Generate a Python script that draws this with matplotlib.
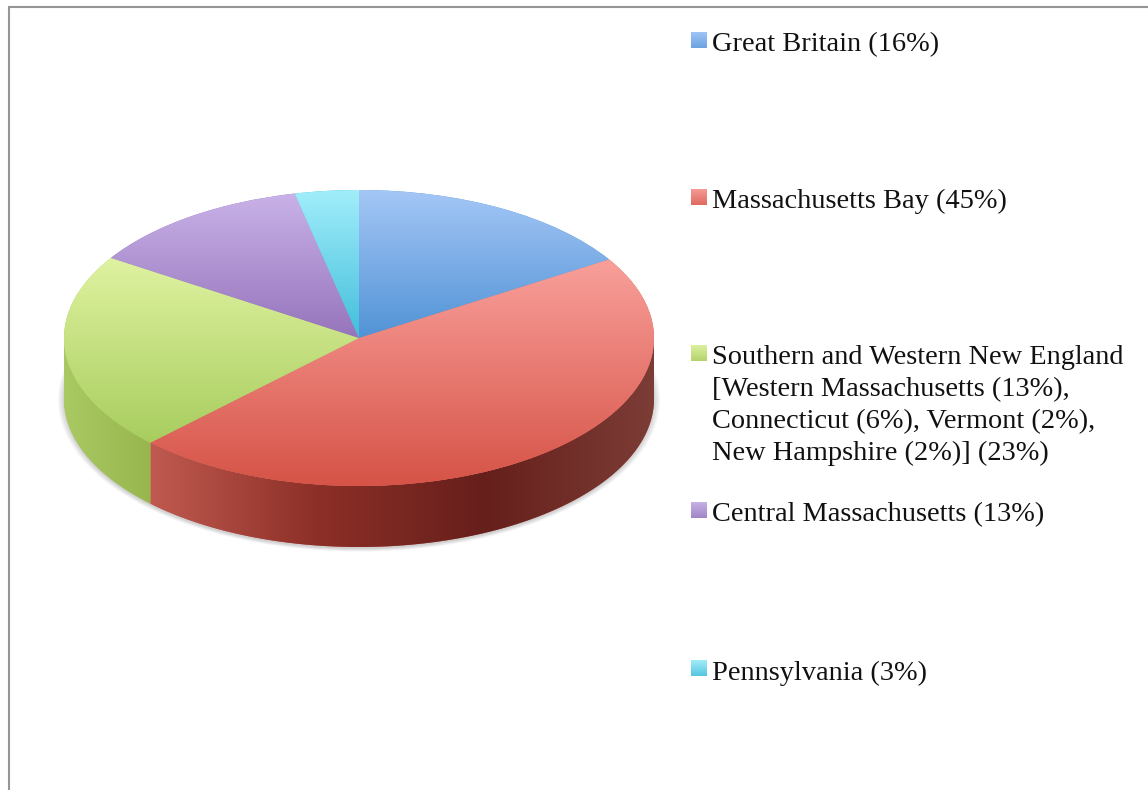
import numpy as np
import matplotlib
matplotlib.use("Agg")
import matplotlib.pyplot as plt
from matplotlib.colors import LinearSegmentedColormap
from matplotlib.patches import Ellipse, Polygon

# slice shares as drawn in the picture (the legend rounds them differently)
names = ["Great Britain", "Massachusetts Bay", "Southern and Western New England",
         "Central Massachusetts", "Pennsylvania"]
shares = [16.1, 46.4, 21.6, 12.4, 3.5]
legend_labels = [
    ["Great Britain (16%)"],
    ["Massachusetts Bay (45%)"],
    ["Southern and Western New England", "[Western Massachusetts (13%),",
     "Connecticut (6%), Vermont (2%),", "New Hampshire (2%)] (23%)"],
    ["Central Massachusetts (13%)"],
    ["Pennsylvania (3%)"],
]

W, H = 1148, 790
cx, cy, rx, ry, depth = 359, 338, 295, 148, 61
top_colors = [("#a5c7f6", "#5193d6"), ("#f9a09b", "#d65347"), ("#dff2a0", "#a8cd5e"),
              ("#c9b2e8", "#9674bc"), ("#a2eefa", "#42bedb")]
wall_colors = [("#4a7fb8", "#4a7fb8"), ("#c05a50", "#8c2f27", "#661f1b", "#7c3d36"),
               ("#a9c963", "#98b64d"), ("#8060a0", "#8060a0"), ("#3aa0b8", "#3aa0b8")]
swatch_colors = [("#a0c4f4", "#6ba3e2"), ("#f59a95", "#df6a60"), ("#dcf0a0", "#b4d46c"),
                 ("#c6b0e4", "#a286c6"), ("#a0ecf8", "#56c6e0")]
legend_y = [33, 190, 346, 503, 661]

fig = plt.figure(figsize=(W / 100, H / 100), dpi=100)
ax = fig.add_axes([0, 0, 1, 1])
xlim = (-cx / rx, (W - cx) / rx)
ylim = ((cy - H) / ry, cy / ry)
d = depth / ry

# soft shadow under the disc
for k in range(8):
    grow = 1 + k * 0.003
    ax.add_patch(Ellipse((0, -d - 0.006), 2 * grow, 2 * grow + 0.01,
                         color="black", alpha=0.022, lw=0, zorder=0.5))

wedges, _ = ax.pie(shares, startangle=90, counterclock=False, radius=1,
                   colors=[c[1] for c in top_colors], wedgeprops={"linewidth": 0})
for w in wedges:
    w.set_zorder(3)

for w, tc, wc in zip(wedges, top_colors, wall_colors):
    a = np.radians(np.linspace(w.theta1, w.theta2, 200))
    ys = np.r_[np.sin(a), 0]
    cmap = LinearSegmentedColormap.from_list("t", tc)
    im = ax.imshow(np.linspace(0, 1, 256).reshape(-1, 1), cmap=cmap, aspect="auto",
                   extent=(-1, 1, ys.min(), ys.max()), origin="upper", zorder=4)
    im.set_clip_path(w)

    # outer wall, only the part facing the viewer (lower half)
    t1, t2 = w.theta1, w.theta2
    if t1 < 0:
        t1, t2 = t1 + 360, t2 + 360
    lo, hi = max(t1, 180), min(t2, 360)
    if hi <= lo:
        continue
    a = np.radians(np.linspace(lo, hi, 200))
    pts = np.r_[np.c_[np.cos(a), np.sin(a)], np.c_[np.cos(a[::-1]), np.sin(a[::-1]) - d]]
    wall = Polygon(pts, closed=True, fc=wc[0], lw=0, zorder=2)
    ax.add_patch(wall)
    cmap = LinearSegmentedColormap.from_list("w", wc)
    im = ax.imshow(np.linspace(0, 1, 256).reshape(1, -1), cmap=cmap, aspect="auto",
                   extent=(np.cos(a).min(), np.cos(a).max(), -1 - d, 0), zorder=2.5)
    im.set_clip_path(wall)

ax.set_xlim(xlim)
ax.set_ylim(ylim)
ax.set_aspect("auto")
ax.axis("off")

# overlay in pixel coordinates for frame and legend
ov = fig.add_axes([0, 0, 1, 1], facecolor="none")
ov.set_xlim(0, W)
ov.set_ylim(H, 0)
ov.axis("off")
ov.plot([9, 9, W], [H, 7, 7], color="#969696", lw=1.5, solid_joinstyle="miter")

for i, lines in enumerate(legend_labels):
    y0 = legend_y[i]
    cmap = LinearSegmentedColormap.from_list("l", swatch_colors[i])
    ov.imshow(np.linspace(0, 1, 32).reshape(-1, 1), cmap=cmap, aspect="auto",
              extent=(691, 706.5, y0 + 15.5, y0), origin="upper")
    for j, line in enumerate(lines):
        ov.text(712, y0 + 18.5 + j * 32, line, fontsize=20.4, family="Liberation Serif",
                color="#111111", va="baseline", ha="left")
ov.set_xlim(0, W)
ov.set_ylim(H, 0)

fig.savefig("out.png", dpi=100, facecolor="white")
